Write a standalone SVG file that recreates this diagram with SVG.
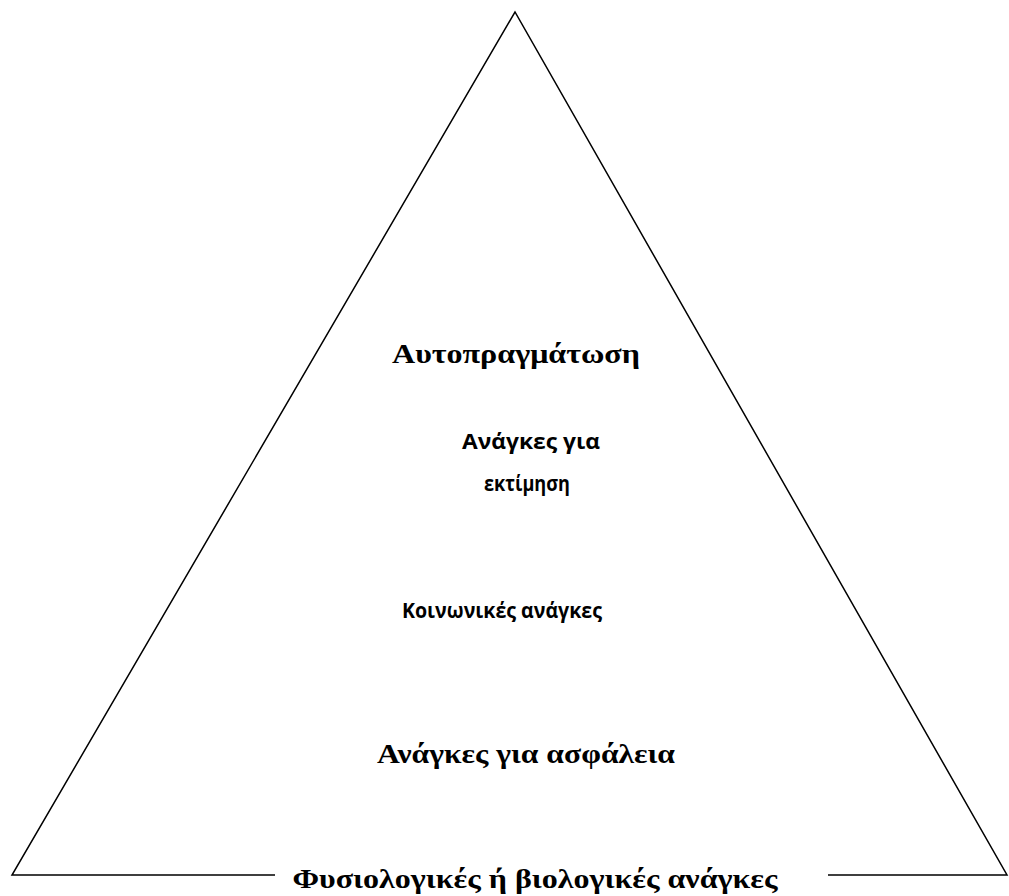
<svg xmlns="http://www.w3.org/2000/svg" width="1009" height="896" viewBox="0 0 1009 896">
<style>
.edge{stroke:#000;stroke-width:1.5;fill:none}
.serif{font-family:"Liberation Serif","Times New Roman",serif;font-weight:bold;fill:#000;text-anchor:middle;font-size:28px}
.sans{font-family:"Open Sans","Noto Sans",sans-serif;font-weight:bold;fill:#000;text-anchor:middle;font-size:21px}
</style>
<rect width="1009" height="896" fill="#fff"/>
<g id="connectors">
<path class="edge" d="M275 875 L12 875 L515 12 L1007 875 L828 875"/>
</g>
<g id="self-actualization"><text class="serif" x="516" y="363" textLength="248" lengthAdjust="spacingAndGlyphs">Αυτοπραγμάτωση</text></g>
<g id="esteem">
<text class="sans" x="531" y="449" textLength="138" lengthAdjust="spacingAndGlyphs">Ανάγκες για</text>
<text class="sans" x="527" y="491" textLength="86" lengthAdjust="spacingAndGlyphs">εκτίμηση</text>
</g>
<g id="social"><text class="sans" x="502" y="618" textLength="200" lengthAdjust="spacingAndGlyphs">Κοινωνικές ανάγκες</text></g>
<g id="safety"><text class="serif" x="526" y="763" textLength="298" lengthAdjust="spacingAndGlyphs">Ανάγκες για ασφάλεια</text></g>
<g id="physiological"><text class="serif" x="535" y="888" textLength="485" lengthAdjust="spacingAndGlyphs">Φυσιολογικές ή βιολογικές ανάγκες</text></g>
</svg>
